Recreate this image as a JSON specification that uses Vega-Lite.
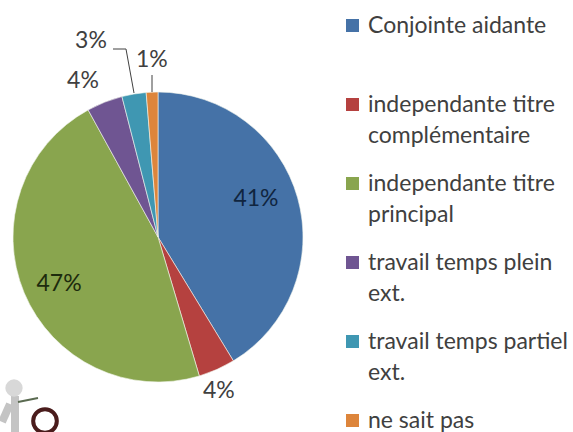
{"$schema":"https://vega.github.io/schema/vega-lite/v6.json","width":290,"height":290,"autosize":"none","padding":{"left":13,"top":92,"right":270,"bottom":50},"background":"white",
"datasets":{"slices":[{"category":"Conjointe aidante","order":0,"value":41.3,"label":"41%"},{"category":"independante titre complémentaire","order":1,"value":4.1,"label":"4%"},{"category":"independante titre principal","order":2,"value":46.6,"label":"47%"},{"category":"travail temps plein ext.","order":3,"value":4,"label":"4%"},{"category":"travail temps partiel ext.","order":4,"value":2.7,"label":"3%"},{"category":"ne sait pas","order":5,"value":1.3,"label":"1%"}],
"leaders":[{"id":"a","seq":0,"h":100,"v":-43},{"id":"a","seq":1,"h":113,"v":-43},{"id":"a","seq":2,"h":121,"v":1},{"id":"b","seq":0,"h":139,"v":-17},{"id":"b","seq":1,"h":139,"v":0}],
"iconBody":[{"id":"body","seq":0,"h":2,"v":304},{"id":"body","seq":1,"h":2,"v":340},{"id":"armL","seq":0,"h":-3,"v":312},{"id":"armL","seq":1,"h":-11,"v":330}],
"iconArm":[{"seq":0,"h":5,"v":310},{"seq":1,"h":25,"v":306}],
"iconHead":[{"h":1,"v":296}],"iconClock":[{"h":32,"v":329}]},
"layer":[
{"data":{"name":"slices"},"mark":{"type":"arc","outerRadius":145,"stroke":"#f4f7ee","strokeWidth":0.6},
"encoding":{"theta":{"field":"value","type":"quantitative","stack":true},"order":{"field":"order","type":"quantitative"},
"color":{"field":"category","type":"nominal","scale":{"domain":["Conjointe aidante","independante titre complémentaire","independante titre principal","travail temps plein ext.","travail temps partiel ext.","ne sait pas"],"range":["#4572a7","#b5413f","#89a54e","#6f5592","#3f97b2","#dd853b"]},
"legend":{"title":null,"orient":"none","legendX":328,"legendY":-78,"symbolType":"square","symbolSize":169,"symbolStrokeWidth":0,"labelFont":"Lato","labelFontSize":23,"labelColor":"#404040","labelLimit":260,"labelOffset":4,"gridAlign":"all","rowPadding":24,"columns":1,"labelExpr":"split(replace(replace(datum.label,'titre ','titre|'),' ext.','|ext.'),'|')"}}}},
{"data":{"name":"slices"},"mark":{"type":"text","font":"Lato","fontSize":23,"radius":100,"align":"center","baseline":"middle",
"dx":{"expr":"[1.7,20.3,-6.7,-38.2,-50.5,-2][datum.order]"},"dy":{"expr":"[-11,62.6,8.4,-63,-97.4,-77][datum.order]"},"fill":{"expr":"['#10253f','#404040','#1d2b0d','#404040','#404040','#404040'][datum.order]"}},
"encoding":{"theta":{"field":"value","type":"quantitative","stack":true},"order":{"field":"order","type":"quantitative"},"detail":{"field":"category"},"text":{"field":"label"}}},
{"data":{"name":"leaders"},"mark":{"type":"line","stroke":"#404040","strokeWidth":1},
"encoding":{"x":{"field":"h","type":"quantitative","axis":null,"scale":{"domain":[0,290]}},"y":{"field":"v","type":"quantitative","axis":null,"scale":{"domain":[290,0]}},"detail":{"field":"id"},"order":{"field":"seq"}}},
{"data":{"name":"iconBody"},"mark":{"type":"line","stroke":"#c4c4c4","strokeWidth":8},
"encoding":{"x":{"field":"h","type":"quantitative","axis":null,"scale":{"domain":[0,290]}},"y":{"field":"v","type":"quantitative","axis":null,"scale":{"domain":[290,0]}},"detail":{"field":"id"},"order":{"field":"seq"}}},
{"data":{"name":"iconArm"},"mark":{"type":"line","stroke":"#5a6a50","strokeWidth":2},
"encoding":{"x":{"field":"h","type":"quantitative","axis":null,"scale":{"domain":[0,290]}},"y":{"field":"v","type":"quantitative","axis":null,"scale":{"domain":[290,0]}},"order":{"field":"seq"}}},
{"data":{"name":"iconHead"},"mark":{"type":"point","filled":true,"fill":"#d8d8d8","size":300,"opacity":1},
"encoding":{"x":{"field":"h","type":"quantitative","axis":null,"scale":{"domain":[0,290]}},"y":{"field":"v","type":"quantitative","axis":null,"scale":{"domain":[290,0]}}}},
{"data":{"name":"iconClock"},"mark":{"type":"point","fill":"white","fillOpacity":1,"stroke":"#4a1c1c","strokeWidth":4,"size":560,"opacity":1},
"encoding":{"x":{"field":"h","type":"quantitative","axis":null,"scale":{"domain":[0,290]}},"y":{"field":"v","type":"quantitative","axis":null,"scale":{"domain":[290,0]}}}}
],"config":{"view":{"stroke":null},"style":{"guide-label":{"lineHeight":31}}}}
